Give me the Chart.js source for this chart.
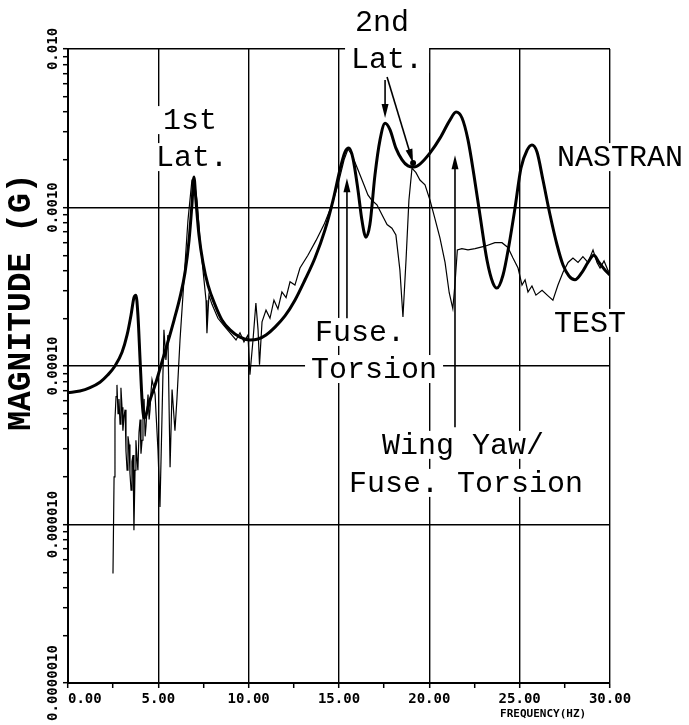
<!DOCTYPE html>
<html>
<head>
<meta charset="utf-8">
<script src="https://cdn.jsdelivr.net/npm/chart.js@4.4.1/dist/chart.umd.min.js"></script>
<style>
  html, body { margin: 0; padding: 0; background: #fff; }
  #wrap { width: 689px; height: 725px; position: relative; }
</style>
</head>
<body>
<div id="wrap"><canvas id="chart"></canvas></div>
<script>
// Frequency response (Hz, G)
const nastranFreq = [0, 0.66, 1.22, 1.77, 2.21, 2.6, 2.99, 3.27, 3.49, 3.65, 3.76, 3.87, 3.99, 4.1, 4.21, 4.54, 4.87, 5.2, 5.53, 5.87, 6.2, 6.48, 6.7, 6.86, 6.97, 7.08, 7.25, 7.47, 7.75, 8.14, 8.52, 8.97, 9.52, 10.07, 10.52, 10.96, 11.46, 12.01, 12.56, 13.12, 13.67, 14.22, 14.67, 15.05, 15.33, 15.55, 15.77, 16.05, 16.27, 16.49, 16.71, 16.99, 17.27, 17.55, 17.82, 18.15, 18.49, 18.82, 19.15, 19.48, 20.04, 20.59, 21.14, 21.48, 21.81, 22.14, 22.47, 22.8, 23.19, 23.52, 23.74, 24.08, 24.41, 24.74, 25.07, 25.41, 25.68, 25.96, 26.29, 26.68, 27.07, 27.4, 27.73, 28.06, 28.45, 28.78, 29.11, 29.39, 29.72, 30];
const nastranMag = [6.8e-5, 6.95e-5, 7.3e-5, 7.9e-5, 8.8e-5, 1.0e-4, 1.22e-4, 1.57e-4, 2.1e-4, 2.7e-4, 2.8e-4, 2.1e-4, 1.09e-4, 6.1e-5, 4.7e-5, 6.1e-5, 7.9e-5, 1.06e-4, 1.42e-4, 1.95e-4, 2.72e-4, 3.9e-4, 6.2e-4, 1.04e-3, 1.56e-3, 1.11e-3, 6.7e-4, 4.5e-4, 3.24e-4, 2.43e-4, 1.95e-4, 1.69e-4, 1.52e-4, 1.46e-4, 1.48e-4, 1.57e-4, 1.76e-4, 2.07e-4, 2.6e-4, 3.5e-4, 4.8e-4, 7.2e-4, 1.11e-3, 1.73e-3, 2.24e-3, 2.37e-3, 2.05e-3, 1.29e-3, 8.3e-4, 6.5e-4, 7.8e-4, 1.6e-3, 2.67e-3, 3.4e-3, 3.1e-3, 2.37e-3, 2.0e-3, 1.83e-3, 1.8e-3, 1.88e-3, 2.21e-3, 2.74e-3, 3.56e-3, 4.0e-3, 3.67e-3, 2.67e-3, 1.6e-3, 9.0e-4, 4.67e-4, 3.34e-4, 3.1e-4, 3.75e-4, 5.8e-4, 9.9e-4, 1.77e-3, 2.3e-3, 2.48e-3, 2.24e-3, 1.49e-3, 9.0e-4, 5.8e-4, 4.34e-4, 3.7e-4, 3.5e-4, 3.9e-4, 4.5e-4, 5.0e-4, 4.5e-4, 4.04e-4, 3.75e-4];

const testFreq = [2.49, 2.55, 2.6, 2.66, 2.71, 2.77, 2.82, 2.88, 2.93, 2.99, 3.04, 3.1, 3.16, 3.21, 3.27, 3.32, 3.38, 3.43, 3.49, 3.54, 3.6, 3.65, 3.71, 3.76, 3.82, 3.87, 3.93, 3.99, 4.04, 4.1, 4.15, 4.21, 4.27, 4.32, 4.38, 4.43, 4.49, 4.54, 4.6, 4.65, 4.74, 4.82, 4.9, 4.98, 5.09, 5.2, 5.31, 5.42, 5.53, 5.65, 5.76, 5.92, 6.03, 6.2, 6.42, 6.64, 6.86, 6.97, 7.14, 7.31, 7.47, 7.64, 7.69, 7.8, 7.97, 8.3, 8.63, 8.97, 9.3, 9.52, 9.74, 9.96, 10.07, 10.24, 10.4, 10.52, 10.6, 10.74, 10.96, 11.18, 11.4, 11.62, 11.84, 12.07, 12.29, 12.56, 12.84, 13.28, 13.73, 14.17, 14.61, 14.94, 15.28, 15.5, 15.72, 16.05, 16.38, 16.6, 16.82, 17.1, 17.38, 17.66, 17.93, 18.15, 18.37, 18.54, 18.71, 18.87, 19.04, 19.26, 19.48, 19.76, 20.04, 20.31, 20.59, 20.87, 21.1, 21.3, 21.42, 21.55, 21.8, 22.14, 22.53, 23.08, 23.63, 24.02, 24.35, 24.63, 24.91, 25.13, 25.3, 25.46, 25.68, 25.9, 26.24, 26.57, 26.84, 27.12, 27.4, 27.68, 27.95, 28.23, 28.5, 28.78, 29.06, 29.28, 29.45, 29.67, 29.89, 30];
const testMag = [4.9e-6, 2.0e-5, 4.6e-5, 6.4e-5, 7.6e-5, 5.0e-5, 6.2e-5, 4.3e-5, 7.3e-5, 5.5e-5, 3.9e-5, 4.8e-5, 5.3e-5, 2.9e-5, 2.2e-5, 3.6e-5, 3.2e-5, 2.1e-5, 1.65e-5, 2.5e-5, 2.74e-5, 9.2e-6, 2.2e-5, 3.4e-5, 2.6e-5, 2.2e-5, 3.8e-5, 4.6e-5, 2.8e-5, 3.4e-5, 5.0e-5, 6.2e-5, 3.6e-5, 4.2e-5, 5.5e-5, 6.6e-5, 4.6e-5, 5.3e-5, 7.0e-5, 8.2e-5, 7.4e-5, 6.6e-5, 4.4e-5, 2.95e-5, 1.29e-5, 4.6e-5, 1.69e-4, 1.09e-4, 1.57e-4, 2.3e-5, 7.1e-5, 3.9e-5, 6.2e-5, 1.46e-4, 3.5e-4, 8.3e-4, 1.49e-3, 1.53e-3, 1.11e-3, 6.2e-4, 4.04e-4, 2.6e-4, 1.61e-4, 2.8e-4, 2.45e-4, 2.0e-4, 1.8e-4, 1.62e-4, 1.46e-4, 1.62e-4, 1.42e-4, 1.57e-4, 8.8e-5, 1.46e-4, 2.5e-4, 1.69e-4, 1.02e-4, 1.9e-4, 2.25e-4, 2.0e-4, 2.6e-4, 2.29e-4, 2.93e-4, 2.7e-4, 3.4e-4, 3.24e-4, 4.15e-4, 5.0e-4, 6.2e-4, 7.8e-4, 1.04e-3, 1.39e-3, 2.0e-3, 2.34e-3, 2.14e-3, 1.73e-3, 1.39e-3, 1.2e-3, 1.11e-3, 1.04e-3, 9.0e-4, 7.8e-4, 7.4e-4, 6.7e-4, 4.04e-4, 2.04e-4, 4.67e-4, 1.11e-3, 1.77e-3, 1.66e-3, 1.49e-3, 1.39e-3, 1.11e-3, 8.5e-4, 6.4e-4, 4.5e-4, 2.9e-4, 2.3e-4, 3.3e-4, 5.4e-4, 5.5e-4, 5.4e-4, 5.5e-4, 5.7e-4, 6.0e-4, 6.0e-4, 5.6e-4, 4.8e-4, 4.15e-4, 3.24e-4, 3.5e-4, 2.93e-4, 3.2e-4, 2.8e-4, 3.0e-4, 2.77e-4, 2.6e-4, 3.24e-4, 3.9e-4, 4.5e-4, 4.8e-4, 4.5e-4, 4.9e-4, 4.5e-4, 5.4e-4, 4.5e-4, 4.15e-4, 4.6e-4, 4.0e-4, 3.9e-4];

// Axes
const xTicks = [0, 5, 10, 15, 20, 25, 30];
const xTickLabels = ['0.00', '5.00', '10.00', '15.00', '20.00', '25.00', '30.00'];
const xMinorTicks = [2.5, 7.5, 12.5, 17.5, 22.5, 27.5];
const yTicks = [1e-6, 1e-5, 1e-4, 1e-3, 1e-2];
const yTickLabels = ['0.0000010', '0.000010', '0.00010', '0.0010', '0.010'];

// Mode call-outs, placed in data units (Hz, G)
const noteText = ['1st', 'Lat.', '2nd', 'Lat.', 'NASTRAN', 'TEST', 'Fuse.', 'Torsion', 'Wing Yaw/', 'Fuse. Torsion'];
const noteFreq = [6.75, 6.86, 17.38, 17.66, 30.55, 28.89, 16.16, 16.94, 21.86, 22.03];
const noteMag = [3.56e-3, 2.08e-3, 1.48e-2, 8.65e-3, 2.08e-3, 1.87e-4, 1.64e-4, 9.57e-5, 3.18e-5, 1.83e-5];

// Arrows from label to mode: start (Hz, G) -> end (Hz, G)
const arrowFreq0 = [17.55, 17.66, 15.44, 21.42];
const arrowMag0 = [6.37e-3, 6.65e-3, 2.0e-4, 4.1e-5];
const arrowFreq1 = [17.55, 19.1, 15.44, 21.42];
const arrowMag1 = [3.67e-3, 1.91e-3, 1.53e-3, 2.14e-3];

const monoFont = '"Liberation Mono", "DejaVu Sans Mono", monospace';
const tickFont = 'bold 14px "DejaVu Sans Mono", monospace';

function drawArrow(ctx, x0, y0, x1, y1) {
  const a = Math.atan2(y1 - y0, x1 - x0);
  const len = 14, half = 3.5;
  ctx.beginPath();
  ctx.moveTo(x0, y0);
  ctx.lineTo(x1 - Math.cos(a) * len * 0.6, y1 - Math.sin(a) * len * 0.6);
  ctx.stroke();
  ctx.beginPath();
  ctx.moveTo(x1, y1);
  ctx.lineTo(x1 - Math.cos(a) * len - Math.sin(a) * half, y1 - Math.sin(a) * len + Math.cos(a) * half);
  ctx.lineTo(x1 - Math.cos(a) * len + Math.sin(a) * half, y1 - Math.sin(a) * len - Math.cos(a) * half);
  ctx.closePath();
  ctx.fill();
}

const annotate = {
  id: 'annotate',
  beforeDatasetsDraw(chart) {
    const { ctx, scales: { x, y } } = chart;
    ctx.save();
    ctx.font = '30px ' + monoFont;
    ctx.fillStyle = '#fff';
    noteText.forEach((t, i) => {
      const w = ctx.measureText(t).width;
      const px = x.getPixelForValue(noteFreq[i]);
      const py = y.getPixelForValue(noteMag[i]);
      ctx.fillRect(px - w / 2 - 6, py - 14, w + 12, 28);
    });
    ctx.restore();
  },
  afterDatasetsDraw(chart) {
    const { ctx, chartArea: a, scales: { x, y } } = chart;
    ctx.save();
    ctx.fillStyle = '#000';
    ctx.strokeStyle = '#000';

    // call-out text
    ctx.font = '30px ' + monoFont;
    ctx.textAlign = 'center';
    ctx.textBaseline = 'middle';
    noteText.forEach((t, i) => {
      ctx.fillText(t, x.getPixelForValue(noteFreq[i]), y.getPixelForValue(noteMag[i]) + 1);
    });

    // arrows
    ctx.lineWidth = 1.6;
    arrowFreq0.forEach((f, i) => {
      drawArrow(ctx, x.getPixelForValue(f), y.getPixelForValue(arrowMag0[i]),
        x.getPixelForValue(arrowFreq1[i]), y.getPixelForValue(arrowMag1[i]));
    });
    ctx.beginPath();
    ctx.arc(x.getPixelForValue(arrowFreq1[1]), y.getPixelForValue(arrowMag1[1]), 3, 0, Math.PI * 2);
    ctx.fill();

    // tick labels
    ctx.font = tickFont;
    ctx.textBaseline = 'middle';
    xTicks.forEach((v, i) => {
      ctx.textAlign = i === 0 ? 'left' : 'center';
      ctx.fillText(xTickLabels[i], x.getPixelForValue(v), a.bottom + 16);
    });
    yTicks.forEach((v, i) => {
      ctx.save();
      ctx.translate(a.left - 15, y.getPixelForValue(v));
      ctx.rotate(-Math.PI / 2);
      ctx.textAlign = 'center';
      ctx.fillText(yTickLabels[i], 0, 0);
      ctx.restore();
    });

    // axis titles
    ctx.font = 'bold 11px "DejaVu Sans Mono", monospace';
    ctx.textAlign = 'center';
    ctx.fillText('FREQUENCY(HZ)', x.getPixelForValue(26.3), a.bottom + 31);
    ctx.save();
    ctx.font = 'bold 33px ' + monoFont;
    ctx.translate(22, y.getPixelForValue(2.53e-4));
    ctx.rotate(-Math.PI / 2);
    ctx.fillText('MAGNITUDE (G)', 0, 0);
    ctx.restore();
    ctx.restore();
  }
};

const ctx = document.getElementById('chart').getContext('2d');
const chart = new Chart(ctx, {
  type: 'line',
  data: {
    datasets: [
      {
        label: 'NASTRAN',
        data: nastranFreq.map((f, i) => ({ x: f, y: nastranMag[i] })),
        borderColor: '#000',
        borderWidth: 3,
        pointRadius: 0,
        cubicInterpolationMode: 'monotone',
      },
      {
        label: 'TEST',
        data: testFreq.map((f, i) => ({ x: f, y: testMag[i] })),
        borderColor: '#000',
        borderWidth: 1.2,
        pointRadius: 0,
        tension: 0,
      },
    ],
  },
  options: {
    responsive: true,
    maintainAspectRatio: false,
    animation: false,
    layout: { padding: { left: 63, right: 79, top: 49, bottom: 37 } },
    plugins: { legend: { display: false }, tooltip: { enabled: false } },
    scales: {
      x: {
        type: 'linear',
        min: 0,
        max: 30,
        afterBuildTicks: (scale) => {
          scale.ticks = xTicks.concat(xMinorTicks).sort((p, q) => p - q).map((v) => ({ value: v }));
        },
        ticks: { display: false },
        grid: {
          color: (c) => (c.tick && xTicks.includes(c.tick.value) ? '#000' : 'rgba(0,0,0,0)'),
          lineWidth: 1.4,
          tickColor: '#000',
          tickLength: 5,
          tickWidth: 1.5,
        },
        border: { display: true, color: '#000', width: 2 },
      },
      y: {
        type: 'logarithmic',
        min: 1e-6,
        max: 1e-2,
        afterBuildTicks: (scale) => {
          const t = [];
          yTicks.forEach((d, i) => {
            t.push({ value: d });
            if (i < yTicks.length - 1) for (let k = 2; k <= 9; k++) t.push({ value: d * k });
          });
          scale.ticks = t;
        },
        ticks: { display: false },
        grid: {
          color: (c) => (c.tick && yTicks.includes(c.tick.value) ? '#000' : 'rgba(0,0,0,0)'),
          lineWidth: 1.4,
          tickColor: '#000',
          tickLength: 5,
          tickWidth: 1.5,
        },
        border: { display: true, color: '#000', width: 2 },
      },
    },
  },
  plugins: [annotate],
});
</script>
</body>
</html>
